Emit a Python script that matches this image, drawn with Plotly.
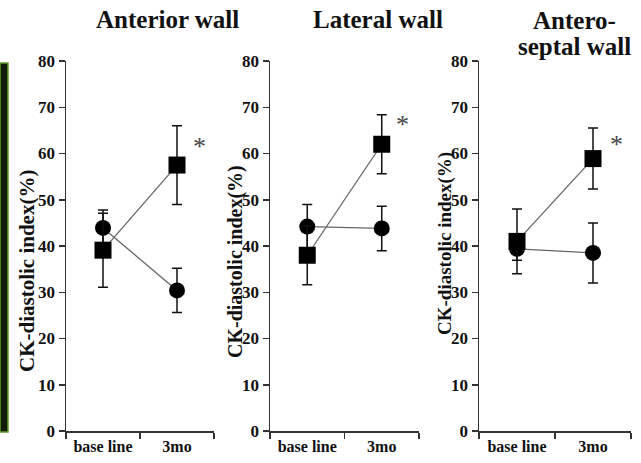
import plotly.graph_objects as go

W, H = 641, 463

categories = ["base line", "3mo"]
panel_titles = ["Anterior wall", "Lateral wall", "Antero-<br>septal wall"]
y_title = "CK-diastolic index(%)"
y_ticks = [0, 10, 20, 30, 40, 50, 60, 70, 80]

square_means = [[39.1, 57.5], [38.0, 62.0], [41.0, 58.9]]
square_err = [[8.0, 8.5], [6.4, 6.4], [7.0, 6.6]]
circle_means = [[43.9, 30.4], [44.2, 43.8], [39.4, 38.5]]
circle_err = [[3.9, 4.8], [4.8, 4.8], [2.5, 6.5]]
star_y = [61.5, 66.3, 62.0]

x_pos = [1, 3]

# layout geometry (pixels)
x_domains_px = [(66, 214), (270, 419), (479, 631)]
y_bottom_px, y_top_px = 431, 61
title_px = [(167, 19), (378, 19), (574, 20)]
title_line_gap = 26
ytitle_px = [(27, 271, 21), (235, 262, 20), (445, 244, 19)]
star_x = [3.6, 3.55, 3.63]

def px_x(p):
    return p / W

def px_y(p):
    return (H - p) / H

fig = go.Figure()
layout = dict(
    width=W, height=H,
    margin=dict(l=0, r=0, t=0, b=0, pad=0, autoexpand=False),
    paper_bgcolor="white", plot_bgcolor="white",
    showlegend=False,
    font=dict(family="Liberation Serif", color="#111"),
)

annotations = []
serif_bold = "Liberation Serif"

for i in range(3):
    xa = "x" if i == 0 else f"x{i+1}"
    ya = "y" if i == 0 else f"y{i+1}"
    xkey = "xaxis" if i == 0 else f"xaxis{i+1}"
    ykey = "yaxis" if i == 0 else f"yaxis{i+1}"

    fig.add_trace(go.Scatter(
        x=x_pos, y=circle_means[i], xaxis=xa, yaxis=ya,
        mode="lines+markers",
        line=dict(color="#666", width=1.3),
        marker=dict(symbol="circle", size=16, color="black"),
        error_y=dict(type="data", array=circle_err[i], color="#111",
                     thickness=1.5, width=5),
    ))
    fig.add_trace(go.Scatter(
        x=x_pos, y=square_means[i], xaxis=xa, yaxis=ya,
        mode="lines+markers",
        line=dict(color="#666", width=1.3),
        marker=dict(symbol="square", size=17, color="black"),
        error_y=dict(type="data", array=square_err[i], color="#111",
                     thickness=1.5, width=5),
    ))

    x0, x1 = x_domains_px[i]
    layout[xkey] = dict(
        domain=[px_x(x0), px_x(x1)], range=[0, 4], anchor=ya,
        tickvals=x_pos, ticktext=categories, ticks="",
        showline=True, linecolor="#333", linewidth=1.5,
        showgrid=False, zeroline=False, fixedrange=True, automargin=False,
        tickfont=dict(family=serif_bold, size=16, color="#111", weight="bold"),
        minor=dict(tickvals=[0, 2, 4], ticks="outside", ticklen=6,
                   tickwidth=1.5, tickcolor="#333", showgrid=False),
    )
    layout[ykey] = dict(
        domain=[px_y(y_bottom_px), px_y(y_top_px)], range=[0, 80],
        anchor=xa, tickvals=y_ticks, ticks="outside", ticklen=6,
        tickwidth=1.5, tickcolor="#333",
        showline=True, linecolor="#333", linewidth=1.5,
        showgrid=False, zeroline=False, fixedrange=True, automargin=False,
        tickfont=dict(family=serif_bold, size=17, color="#111", weight="bold"),
    )

    tx, ty = title_px[i]
    for k, line in enumerate(panel_titles[i].split("<br>")):
        annotations.append(dict(
            text=line, xref="paper", yref="paper",
            x=px_x(tx), y=px_y(ty + k * title_line_gap),
            xanchor="center", yanchor="middle", showarrow=False,
            font=dict(family=serif_bold, size=25, color="#111", weight="bold"),
        ))
    yx, yy, ys = ytitle_px[i]
    annotations.append(dict(
        text=y_title, xref="paper", yref="paper",
        x=px_x(yx), y=px_y(yy), xanchor="center", yanchor="middle",
        textangle=-90, showarrow=False,
        font=dict(family=serif_bold, size=ys, color="#111", weight="bold"),
    ))
    annotations.append(dict(
        text="*", xref=xa, yref=ya, x=star_x[i], y=star_y[i],
        showarrow=False, xanchor="center", yanchor="middle",
        font=dict(family=serif_bold, size=26, color="#444"),
    ))

layout["annotations"] = annotations
layout["shapes"] = [dict(
    type="rect", xref="paper", yref="paper",
    x0=0, x1=px_x(8), y0=px_y(432), y1=px_y(63),
    fillcolor="#101a08", line=dict(color="#5f9a2a", width=1.5),
)]

fig.update_layout(**layout)
fig.write_html(
    "out.html",
    config={"displayModeBar": False, "staticPlot": True},
    post_script="document.body.style.margin='0';document.body.style.padding='0';",
)
